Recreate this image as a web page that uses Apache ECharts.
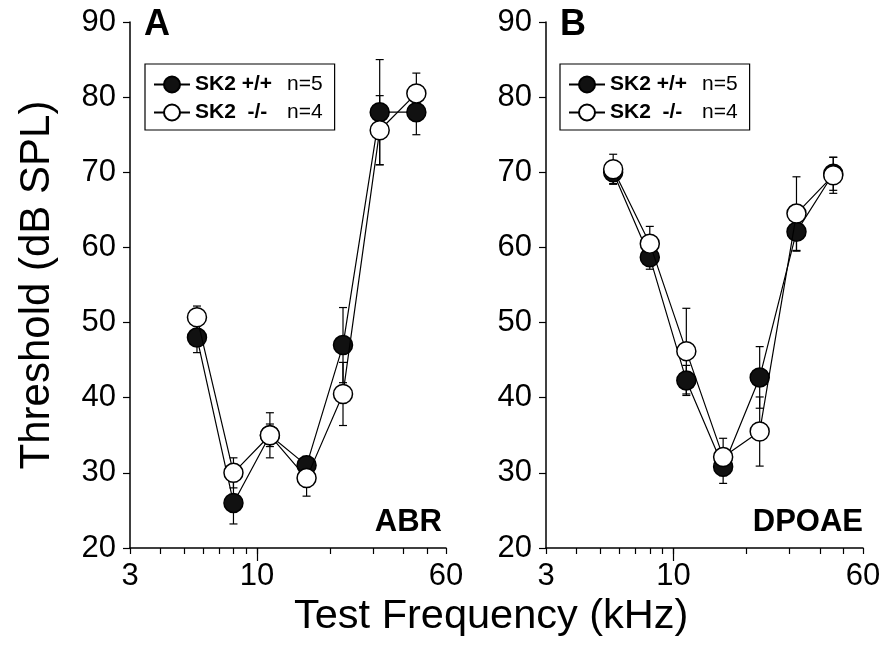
<!DOCTYPE html>
<html><head><meta charset="utf-8">
<script src="https://cdn.jsdelivr.net/npm/echarts@6/dist/echarts.min.js"></script>
<style>html,body{margin:0;padding:0;background:#fff}#c{width:885px;height:648px}</style>
</head><body><div id="c"></div>
<script>
// ---- data ----
const freqs = [5.66, 8, 11.3, 16, 22.6, 32, 45.3];      // kHz
const abrWT = [48, 26, 35, 31, 47, 78, 78];
const abrWTErr = [2, 2.8, 1.5, 1.2, 5, 7, 3];
const abrKO = [50.7, 30, 35, 29.3, 40.5, 75.6, 80.5];
const abrKOErr = [1.5, 2, 3, 2.4, 4.2, 4.6, 2.7];
const dpWT = [70, 58.7, 42.3, 30.8, 42.7, 62.1, 69.8];
const dpWTErr = [1.5, 1.6, 2, 2.2, 4.1, 2.6, 2.2];
const dpKO = [70.4, 60.5, 46.2, 32.1, 35.5, 64.5, 69.6];
const dpKOErr = [2, 2.3, 5.7, 2.5, 4.6, 4.9, 2.4];
const xTickFreqs = [3, 4, 5, 6, 7, 8, 9, 10, 20, 30, 40, 50, 60];
const xLabelFreqs = [3, 10, 60];
const xMajorFreqs = [10];
const yMin = 20, yMax = 90, yStep = 10;
const nameWT = 'SK2 +/+', nameKO = 'SK2 -/-';
const nWT = 'n=5', nKO = 'n=4';

const FONT = '"Liberation Sans", Arial, Helvetica, sans-serif';
const L = Math.log10;
const xMin = L(3), xMax = L(60);

const grids = [
  {left: 130, top: 22, width: 316, height: 526},
  {left: 546, top: 22, width: 317, height: 526}
];

function pts(vals) { return freqs.map((f, i) => [L(f), vals[i]]); }
function errs(vals, e) { return freqs.map((f, i) => [L(f), vals[i] - e[i], vals[i] + e[i]]); }

function errorSeries(data, gi) {
  return {
    type: 'custom', xAxisIndex: gi * 2, yAxisIndex: gi, data: data, z: 1, silent: true,
    encode: {x: 0, y: [1, 2]},
    renderItem: function (params, api) {
      const x = api.value(0);
      const lo = api.coord([x, api.value(1)]);
      const hi = api.coord([x, api.value(2)]);
      const w = 4;
      const style = {stroke: '#000', lineWidth: 1.2};
      return {type: 'group', children: [
        {type: 'line', shape: {x1: lo[0], y1: lo[1], x2: hi[0], y2: hi[1]}, style: style},
        {type: 'line', shape: {x1: lo[0] - w, y1: lo[1], x2: lo[0] + w, y2: lo[1]}, style: style},
        {type: 'line', shape: {x1: hi[0] - w, y1: hi[1], x2: hi[0] + w, y2: hi[1]}, style: style}
      ]};
    }
  };
}

function lineSeries(name, vals, gi, filled) {
  return {
    type: 'line', name: name, xAxisIndex: gi * 2, yAxisIndex: gi, data: pts(vals),
    symbol: 'circle', symbolSize: 19, z: filled ? 2 : 3,
    lineStyle: {color: '#000', width: 1.2},
    itemStyle: {color: filled ? '#111' : '#fff', borderColor: '#000', borderWidth: 1.5},
    emphasis: {disabled: true}, animation: false
  };
}

const xAxes = [], yAxes = [];
grids.forEach((g, gi) => {
  xAxes.push({
    type: 'value', gridIndex: gi, min: xMin, max: xMax, position: 'bottom',
    axisLine: {show: true, lineStyle: {color: '#000', width: 1.5}},
    axisTick: {show: true, length: 6, customValues: xTickFreqs.map(L), lineStyle: {color: '#000', width: 1.2}},
    axisLabel: {customValues: xLabelFreqs.map(L), formatter: v => String(Math.round(Math.pow(10, v))),
      fontSize: 31, color: '#000', fontFamily: FONT, margin: 13},
    splitLine: {show: false}
  });
  xAxes.push({
    type: 'value', gridIndex: gi, min: xMin, max: xMax, position: 'bottom',
    axisLine: {show: false},
    axisTick: {show: true, length: 13, customValues: xMajorFreqs.map(L), lineStyle: {color: '#000', width: 1.2}},
    axisLabel: {show: false}, splitLine: {show: false}
  });
  yAxes.push({
    type: 'value', gridIndex: gi, min: yMin, max: yMax, interval: yStep,
    axisLine: {show: true, lineStyle: {color: '#000', width: 1.5}},
    axisTick: {show: true, length: 7, lineStyle: {color: '#000', width: 1.2}},
    axisLabel: {fontSize: 31, color: '#000', fontFamily: FONT, margin: 14},
    splitLine: {show: false},
    name: gi === 0 ? 'Threshold (dB SPL)' : '',
    nameLocation: 'middle', nameGap: 72,
    nameTextStyle: {fontSize: 42, color: '#000', fontFamily: FONT}
  });
});

function legendFor(left) {
  return {
    orient: 'vertical', left: left, top: 64,
    data: [nameWT, nameKO],
    itemWidth: 36, itemHeight: 20, itemGap: 7,
    borderColor: '#000', borderWidth: 1.2, padding: [10, 12, 7, 8],
    selectedMode: false,
    formatter: function (name) {
      return name === nameWT ? '{b|SK2 +/+}{n|' + nWT + '}' : '{b|SK2  -/-}{n|' + nKO + '}';
    },
    textStyle: {
      fontFamily: FONT, color: '#000',
      rich: {
        b: {fontWeight: 'bold', fontSize: 21, width: 92, lineHeight: 20, fontFamily: FONT, color: '#000'},
        n: {fontSize: 21, lineHeight: 20, fontFamily: FONT, color: '#000'}
      }
    }
  };
}

const chart = echarts.init(document.getElementById('c'), null, {renderer: 'canvas'});
chart.setOption({
  animation: false,
  backgroundColor: '#fff',
  grid: grids,
  xAxis: xAxes,
  yAxis: yAxes,
  legend: [legendFor(145), legendFor(560)],
  graphic: [
    {type: 'text', left: 144, top: 7, style: {text: 'A', font: 'bold 36px ' + FONT, fill: '#000'}},
    {type: 'text', left: 560, top: 7, style: {text: 'B', font: 'bold 36px ' + FONT, fill: '#000'}},
    {type: 'text', right: 443, top: 507, style: {text: 'ABR', font: 'bold 31px ' + FONT, fill: '#000'}},
    {type: 'text', right: 22, top: 507, style: {text: 'DPOAE', font: 'bold 31px ' + FONT, fill: '#000'}},
    {type: 'text', left: 294, top: 596, style: {text: 'Test Frequency (kHz)', font: '41.5px ' + FONT, fill: '#000'}}
  ],
  series: [
    errorSeries(errs(abrWT, abrWTErr), 0),
    errorSeries(errs(abrKO, abrKOErr), 0),
    errorSeries(errs(dpWT, dpWTErr), 1),
    errorSeries(errs(dpKO, dpKOErr), 1),
    lineSeries(nameWT, abrWT, 0, true),
    lineSeries(nameKO, abrKO, 0, false),
    lineSeries(nameWT, dpWT, 1, true),
    lineSeries(nameKO, dpKO, 1, false)
  ]
});
</script>
</body></html>
